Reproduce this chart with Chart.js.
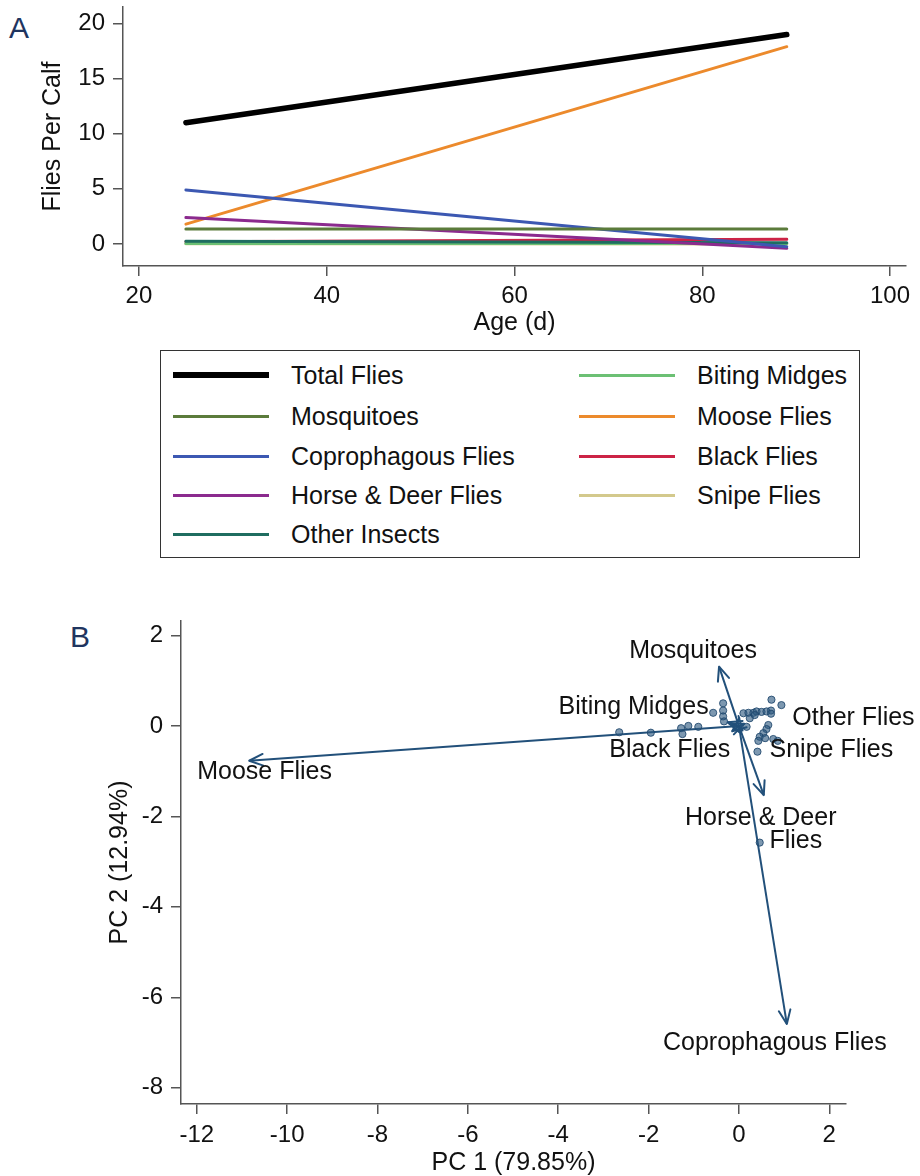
<!DOCTYPE html>
<html><head><meta charset="utf-8">
<script src="https://cdn.jsdelivr.net/npm/chart.js@4.4.1/dist/chart.umd.min.js"></script>
<style>
html,body{margin:0;padding:0;background:#fff;}
body{width:920px;height:1176px;position:relative;overflow:hidden;font-family:"Liberation Sans",Arial,sans-serif;}
#wrapA{position:absolute;left:0;top:0;width:920px;height:340px;}
#wrapB{position:absolute;left:0;top:580px;width:920px;height:596px;}
.panel{position:absolute;font-size:30px;line-height:30px;color:#1f3560;}
#legend{position:absolute;left:160px;top:350px;width:700px;height:208px;border:1.5px solid #333;box-sizing:border-box;}
.item{position:absolute;height:30px;line-height:30px;font-size:25px;color:#111;white-space:nowrap;}
.swatch{position:absolute;left:0;width:96px;}
.ltext{position:absolute;left:118px;top:0;}
</style></head>
<body>
<div class="panel" style="left:9px;top:13px;">A</div>
<div class="panel" style="left:70px;top:622px;">B</div>
<div id="wrapA"><canvas id="chartA" width="920" height="340"></canvas></div>
<div id="legend"></div>
<div id="wrapB"><canvas id="chartB" width="920" height="596"></canvas></div>
<script>
// ---------- Panel A data ----------
const ageDays = [25, 89];
const seriesNames = ['Total Flies','Mosquitoes','Coprophagous Flies','Horse & Deer Flies','Other Insects','Biting Midges','Moose Flies','Black Flies','Snipe Flies'];
const totalFlies = [11.0, 19.0];
const mosquitoes = [1.35, 1.35];
const coprophagousFlies = [4.9, -0.25];
const horseDeerFlies = [2.4, -0.4];
const otherInsects = [0.25, 0.12];
const bitingMidges = [0.05, 0.05];
const mooseFlies = [1.8, 17.9];
const blackFlies = [0.2, 0.42];
const snipeFlies = [0.02, 0.0];
const xTicksA = [20, 40, 60, 80, 100];
const yTicksA = [0, 5, 10, 15, 20];

// ---------- Panel B data ----------
const loadingNames = ['Mosquitoes','Biting Midges','Other Flies','Black Flies','Snipe Flies','Moose Flies','Horse & Deer Flies','Coprophagous Flies'];
const loadingPC1 = [-0.44, -0.25, 0.12, -0.15, 0.08, -10.84, 0.55, 1.06];
const loadingPC2 = [1.31, 0.08, 0.05, -0.12, -0.10, -0.77, -1.53, -6.59];
const scorePC1 = [-2.65,-1.95,-1.28,-1.12,-0.90,-1.25,-0.35,-0.35,-0.57,-0.35,-0.33,0.10,0.21,0.32,0.39,0.50,0.61,0.71,0.72,0.94,0.71,0.24,0.35,0.17,0.65,0.61,0.54,0.46,0.58,0.76,0.86,0.41,0.43,0.46];
const scorePC2 = [-0.14,-0.15,-0.05,0.00,-0.02,-0.18,0.50,0.34,0.29,0.21,0.10,0.28,0.29,0.29,0.32,0.31,0.32,0.34,0.58,0.46,0.27,0.17,0.24,-0.02,0.02,-0.07,-0.16,-0.24,-0.27,-0.29,-0.33,-0.57,-0.33,-2.58];
const xTicksB = [-12,-10,-8,-6,-4,-2,0,2];
const yTicksB = [2,0,-2,-4,-6,-8];

// ---------- styles ----------
const FONT = '"Liberation Sans", Arial, sans-serif';
const seriesStyle = {
  'Total Flies':{color:'#000000',width:5.5},
  'Mosquitoes':{color:'#5b7b3b',width:3},
  'Coprophagous Flies':{color:'#3c58b2',width:3},
  'Horse & Deer Flies':{color:'#8b2a8e',width:3},
  'Other Insects':{color:'#1f6d60',width:3},
  'Biting Midges':{color:'#6cc074',width:3},
  'Moose Flies':{color:'#ec8a2c',width:3},
  'Black Flies':{color:'#cc2346',width:3},
  'Snipe Flies':{color:'#d3c98c',width:3}
};
const seriesValues = [totalFlies,mosquitoes,coprophagousFlies,horseDeerFlies,otherInsects,bitingMidges,mooseFlies,blackFlies,snipeFlies];
const NAVY = '#22507a';
const labelLayout = {
  'Mosquitoes':[{t:'Mosquitoes',dx:-26,dy:-16,align:'center'}],
  'Biting Midges':[{t:'Biting Midges',dx:-19,dy:-15,align:'right'}],
  'Other Flies':[{t:'Other Flies',dx:48,dy:-6,align:'left'}],
  'Black Flies':[{t:'Black Flies',dx:-2,dy:19,align:'right'}],
  'Snipe Flies':[{t:'Snipe Flies',dx:27,dy:20,align:'left'}],
  'Moose Flies':[{t:'Moose Flies',dx:-52,dy:11,align:'left'}],
  'Horse & Deer Flies':[{t:'Horse & Deer',dx:-3,dy:23,align:'center'},{t:'Flies',dx:32,dy:46,align:'center'}],
  'Coprophagous Flies':[{t:'Coprophagous Flies',dx:-12,dy:19,align:'center'}]
};

// ---------- Legend (HTML) ----------
(function(){
  const lg = document.getElementById('legend');
  const rowY = [24,65,105,144,183];
  const colX = [12,418];
  seriesNames.forEach((name,i)=>{
    const col = i < 5 ? 0 : 1, row = i < 5 ? i : i-5;
    const st = seriesStyle[name];
    const d = document.createElement('div');
    d.className='item';
    d.style.left = colX[col]+'px';
    d.style.top = (rowY[row]-15)+'px';
    const sw = document.createElement('div');
    sw.className='swatch';
    sw.style.top = (15 - st.width/2)+'px';
    sw.style.height = st.width+'px';
    sw.style.background = st.color;
    const tx = document.createElement('span');
    tx.className='ltext';
    tx.textContent = name;
    d.appendChild(sw); d.appendChild(tx);
    lg.appendChild(d);
  });
})();

const axisCommon = {
  grid:{display:true,drawOnChartArea:false,drawTicks:true,tickLength:10,color:'#555',lineWidth:1.5},
  border:{display:true,color:'#555',width:1.5}
};
function fixY(w){ return s=>{ s.width=w; s.paddingTop=0; s.paddingBottom=0; }; }
function fixX(h){ return s=>{ s.height=h; s.paddingLeft=0; s.paddingRight=0; }; }

// ---------- Chart A ----------
new Chart(document.getElementById('chartA'),{
  type:'line',
  data:{datasets: seriesNames.map((name,i)=>({
    label:name,
    data: ageDays.map((a,j)=>({x:a,y:seriesValues[i][j]})),
    borderColor:seriesStyle[name].color,
    backgroundColor:seriesStyle[name].color,
    borderWidth:seriesStyle[name].width,
    borderCapStyle:'round',
    pointRadius:0,
    fill:false
  }))},
  options:{
    responsive:false,animation:false,devicePixelRatio:1,
    layout:{padding:{top:7,right:14,left:0,bottom:0}},
    plugins:{legend:{display:false},tooltip:{enabled:false}},
    scales:{
      x:{type:'linear',min:18.3,max:101.7,...axisCommon,
        afterBuildTicks:s=>{s.ticks=xTicksA.map(v=>({value:v}));},
        afterFit:fixX(74),
        ticks:{font:{size:24,family:FONT},color:'#111',padding:6,maxRotation:0},
        title:{display:true,text:'Age (d)',font:{size:25,family:FONT,lineHeight:1.2},color:'#111',padding:{top:0,bottom:2}}
      },
      y:{type:'linear',min:-2,max:21.5,...axisCommon,
        afterBuildTicks:s=>{s.ticks=yTicksA.map(v=>({value:v}));},
        afterFit:fixY(123),
        ticks:{font:{size:24,family:FONT},color:'#111',padding:8},
        title:{display:true,text:'Flies Per Calf',font:{size:25,family:FONT,lineHeight:1.2},color:'#111',padding:{top:38,bottom:0}}
      }
    }
  }
});

// ---------- Chart B ----------
const arrowPlugin = {
  id:'arrows',
  afterDatasetsDraw(chart){
    const ctx = chart.ctx, xs = chart.scales.x, ys = chart.scales.y;
    const x0 = xs.getPixelForValue(0), y0 = ys.getPixelForValue(0);
    ctx.save();
    ctx.strokeStyle = NAVY; ctx.lineWidth = 2; ctx.lineCap='round'; ctx.lineJoin='round';
    loadingNames.forEach((n,i)=>{
      const px = xs.getPixelForValue(loadingPC1[i]), py = ys.getPixelForValue(loadingPC2[i]);
      const ang = Math.atan2(py-y0, px-x0);
      const L = 15, a = 0.40;
      ctx.beginPath();
      ctx.moveTo(px - L*Math.cos(ang-a), py - L*Math.sin(ang-a));
      ctx.lineTo(px,py);
      ctx.lineTo(px - L*Math.cos(ang+a), py - L*Math.sin(ang+a));
      ctx.stroke();
    });
    ctx.font = '25px ' + FONT;
    ctx.fillStyle = '#111';
    ctx.textBaseline = 'middle';
    loadingNames.forEach((n,i)=>{
      const px = xs.getPixelForValue(loadingPC1[i]), py = ys.getPixelForValue(loadingPC2[i]);
      (labelLayout[n]||[]).forEach(l=>{
        ctx.textAlign = l.align;
        ctx.fillText(l.t, px + l.dx, py + l.dy);
      });
    });
    ctx.restore();
  }
};

const arrowSets = loadingNames.map((n,i)=>({
  type:'line', label:n,
  data:[{x:0,y:0},{x:loadingPC1[i],y:loadingPC2[i]}],
  borderColor:NAVY, borderWidth:2, pointRadius:0, showLine:true, fill:false
}));

new Chart(document.getElementById('chartB'),{
  type:'scatter',
  data:{datasets:[
    {label:'Scores',data:scorePC1.map((v,i)=>({x:v,y:scorePC2[i]})),
     pointRadius:3.6,pointBackgroundColor:'rgba(45,88,128,0.62)',pointBorderColor:'rgba(30,70,108,0.85)',pointBorderWidth:1,showLine:false},
    ...arrowSets
  ]},
  options:{
    responsive:false,animation:false,devicePixelRatio:1,
    layout:{padding:{top:41,right:74,left:0,bottom:0}},
    plugins:{legend:{display:false},tooltip:{enabled:false}},
    scales:{
      x:{type:'linear',min:-12.35,max:2.37,...axisCommon,
        afterBuildTicks:s=>{s.ticks=xTicksB.map(v=>({value:v}));},
        afterFit:fixX(72),
        ticks:{font:{size:24,family:FONT},color:'#111',padding:7,maxRotation:0},
        title:{display:true,text:'PC 1 (79.85%)',font:{size:25,family:FONT,lineHeight:1.04},color:'#111',padding:{top:0,bottom:0}}
      },
      y:{type:'linear',min:-8.36,max:2.32,...axisCommon,
        afterBuildTicks:s=>{s.ticks=yTicksB.map(v=>({value:v}));},
        afterFit:fixY(181),
        ticks:{font:{size:24,family:FONT},color:'#111',padding:8},
        title:{display:true,text:'PC 2 (12.94%)',font:{size:25,family:FONT,lineHeight:1.2},color:'#111',padding:{top:105,bottom:0}}
      }
    }
  },
  plugins:[arrowPlugin]
});
</script>
</body></html>
